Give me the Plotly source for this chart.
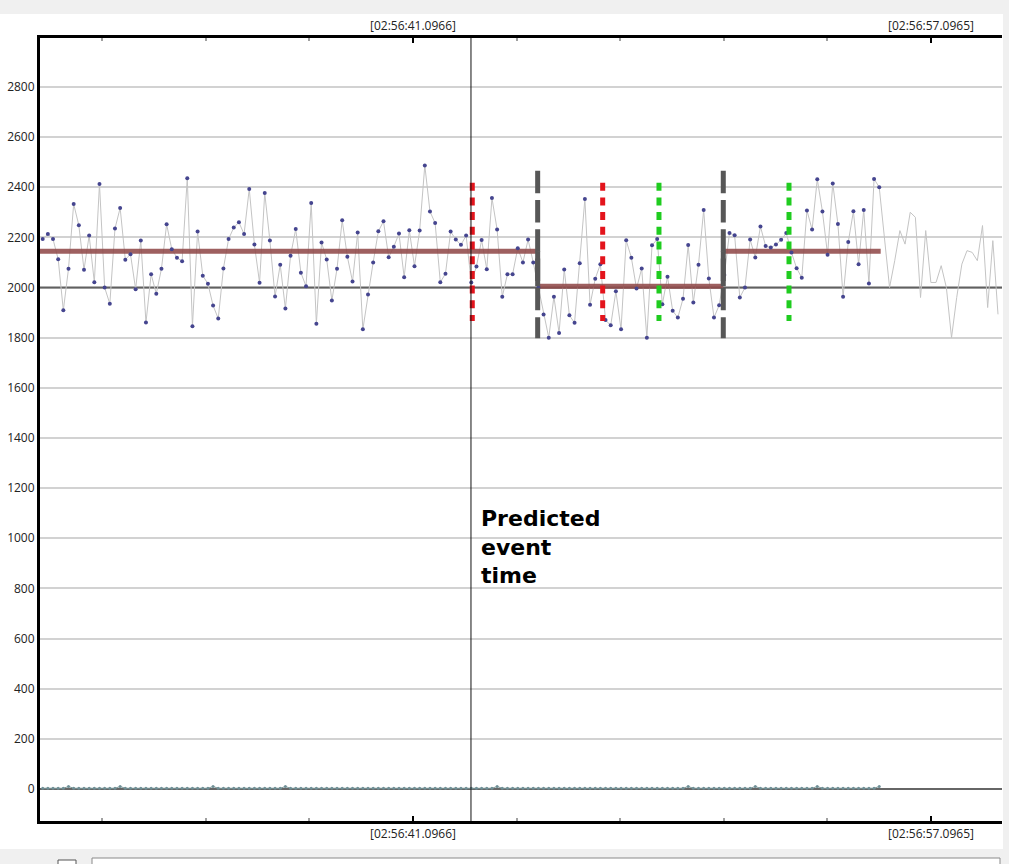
import plotly.graph_objects as go

# ---------------- data ----------------
# time axis: seconds after 02:56:00
T_FIRST = 29.659          # time of first sample
SAMPLE_PERIOD = 0.1595    # seconds between samples
N_MARKED = 163            # samples drawn with point markers

signal = [
    2193, 2213, 2193, 2113, 1909, 2075, 2333, 2248, 2071, 2207,
    2021, 2413, 2000, 1935, 2235, 2317, 2111, 2133, 1993, 2187,
    1860, 2053, 1975, 2075, 2252, 2153, 2119, 2105, 2436, 1845,
    2223, 2047, 2015, 1928, 1876, 2076, 2193, 2239, 2260, 2213,
    2393, 2171, 2019,
    2377, 2187, 1964, 2091, 1916, 2127, 2233, 2059, 2005, 2337,
    1855, 2179, 2112, 1948, 2075, 2268, 2123, 2024, 2219, 1833,
    1972, 2100, 2224, 2264, 2121, 2163, 2215, 2041, 2228, 2085,
    2227, 2487, 2303, 2257, 2021, 2055, 2223, 2191, 2170, 2207,
    2020, 2084,
    2189, 2073, 2357, 2231, 1963, 2053, 2053, 2157, 2100, 2191,
    2100, 2000, 1892, 1800, 1963, 1819, 2072, 1889, 1859, 2097,
    2353, 1931, 2035, 2093, 1870, 1849, 1985, 1833, 2188, 2119,
    1996, 2076, 1800, 2168, 2193,
    1933, 2043, 1907, 1880, 1955, 2169, 1940, 2091, 2309, 2036,
    1880, 1929, 2050, 2217, 2208, 1960, 2000, 2191, 2120, 2243,
    2165, 2160, 2171, 2190, 2217, 2140, 2077, 2039, 2307, 2231,
    2432, 2303, 2131, 2415, 2253, 1963, 2181, 2304, 2093, 2309,
    2016, 2433, 2400,
    2200, 2000, 2107, 2227, 2173, 2300, 2280, 1960, 2227, 2020,
    2020, 2087, 2000, 1800, 1960, 2093, 2147, 2140, 2107, 2247,
    1920, 2187, 1893,
]

zero_series = [
    3, 3, 3, 3, 3, 10, 3, 3, 3, 3, 3, 3, 3, 3, 3, 10, 3, 3, 3, 3,
    3, 3, 3, 3, 3, 3, 3, 3, 3, 3, 3, 3, 3, 10, 3, 3, 3, 3, 3, 3,
    3, 3, 3, 3, 3, 3, 3, 10, 3, 3, 3, 3, 3, 3, 3, 3, 3, 3, 3, 3,
    3, 3, 3, 3, 3, 3, 3, 3, 3, 3, 3, 3, 3, 3, 3, 3, 3, 3, 3, 3,
    3, 3, 3, 3, 3, 3, 3, 3, 10, 3, 3, 3, 3, 3, 3, 3, 3, 3, 3, 3,
    3, 3, 3, 3, 3, 3, 3, 3, 3, 3, 3, 3, 3, 3, 3, 3, 3, 3, 3, 3,
    3, 3, 3, 3, 3, 10, 3, 3, 3, 3, 3, 3, 3, 3, 3, 3, 3, 3, 10, 3,
    3, 3, 3, 3, 3, 3, 3, 3, 3, 3, 10, 3, 3, 3, 3, 3, 3, 3, 3, 3,
    3, 3, 10,
]

# segment means
seg_start = [29.0, 44.948, 50.681]
seg_end = [44.948, 50.681, 55.543]
seg_level = [2145, 2005, 2145]

# vertical markers
event_time = 42.888
change_times = [44.948, 50.681]
change_span = [2466, 1798]
red_times = [42.928, 46.956]
green_times = [48.695, 52.711]
dot_span = [2418, 1866]
reference_level = 2000

# axes
x_range = [29.576, 59.29]
y_range = [-127.6, 2995]
major_ticks = [41.0966, 57.0965]
major_labels = ["[02:56:41.0966]", "[02:56:57.0965]"]
minor_ticks = [31.4966, 34.6966, 37.8966, 44.2966, 47.4966, 50.6966, 53.8966]
y_ticks = [0, 200, 400, 600, 800, 1000, 1200, 1400, 1600, 1800, 2000, 2200, 2400, 2600, 2800]

# ---------------- figure ----------------
times = [T_FIRST + i * SAMPLE_PERIOD for i in range(len(signal))]

fig = go.Figure()

# reference level line (dark) across the whole plot
fig.add_trace(go.Scatter(
    x=x_range, y=[reference_level, reference_level], mode="lines",
    line=dict(color="#606060", width=2), showlegend=False, hoverinfo="skip"))

# near-zero channel
fig.add_trace(go.Scatter(
    x=times[:len(zero_series)], y=zero_series, mode="lines+markers",
    line=dict(color="#7f9a9a", width=1),
    marker=dict(size=3, color="#6f8f96"),
    xaxis="x2", yaxis="y", hoverinfo="skip", showlegend=False))

# signal line
fig.add_trace(go.Scatter(
    x=times, y=signal, mode="lines",
    line=dict(color="#c4c4c4", width=1), showlegend=False, hoverinfo="skip"))

# segment means
for s, e, lv in zip(seg_start, seg_end, seg_level):
    fig.add_trace(go.Scatter(
        x=[s, e], y=[lv, lv], mode="lines",
        line=dict(color="rgba(145,74,74,0.88)", width=5), showlegend=False, hoverinfo="skip"))

# signal points
fig.add_trace(go.Scatter(
    x=times[:N_MARKED], y=signal[:N_MARKED], mode="markers",
    marker=dict(size=4, color="#45458f", line=dict(width=0)),
    showlegend=False, hoverinfo="skip"))

# change points (gray dashed + step between levels)
for k, ct in enumerate(change_times):
    fig.add_trace(go.Scatter(
        x=[ct, ct], y=change_span, mode="lines",
        line=dict(color="#575757", width=5, dash="22.5px,6.8px"),
        showlegend=False, hoverinfo="skip"))
    fig.add_trace(go.Scatter(
        x=[ct, ct], y=[seg_level[k], seg_level[k + 1]], mode="lines",
        line=dict(color="#575757", width=5),
        showlegend=False, hoverinfo="skip"))

for ts, col in ((red_times, "#e3141c"), (green_times, "#1fcc1f")):
    for t in ts:
        fig.add_trace(go.Scatter(
            x=[t, t], y=dot_span, mode="lines",
            line=dict(color=col, width=5, dash="8px,6.7px"),
            showlegend=False, hoverinfo="skip"))

# plot area: x 40..1002 px, y 38..821 px
PW, PH = 962.0, 783.0
def px(xp):
    return (xp - 40) / PW
def py(yp):
    return (821 - yp) / PH

shapes = [
    # predicted event time line
    dict(type="line", xref="x", yref="paper", x0=event_time, x1=event_time, y0=0, y1=1,
         line=dict(color="#111111", width=1)),
    # window chrome
    dict(type="rect", xref="paper", yref="paper", x0=px(-20), x1=px(1030), y0=py(14), y1=py(-20),
         fillcolor="#f0f0f0", line=dict(width=0), layer="below"),
    dict(type="rect", xref="paper", yref="paper", x0=px(1003), x1=px(1030), y0=py(900), y1=py(-20),
         fillcolor="#f0f0f0", line=dict(width=0), layer="below"),
    dict(type="rect", xref="paper", yref="paper", x0=px(-20), x1=px(1030), y0=py(900), y1=py(849),
         fillcolor="#f0f0f0", line=dict(width=0), layer="below"),
    dict(type="rect", xref="paper", yref="paper", x0=px(92), x1=px(1000), y0=py(880), y1=py(858),
         fillcolor="#ffffff", line=dict(color="#8a8a8a", width=1), layer="below"),
    dict(type="rect", xref="paper", yref="paper", x0=px(58), x1=px(76), y0=py(880), y1=py(860),
         fillcolor="#ffffff", line=dict(color="#555555", width=1), layer="below"),
]

axis_common = dict(
    range=x_range, tickmode="array", tickvals=major_ticks, ticktext=major_labels,
    ticks="inside", ticklen=5, tickwidth=2, tickcolor="#000000",
    minor=dict(tickmode="array", tickvals=minor_ticks, ticks="inside", ticklen=3,
               tickwidth=2, tickcolor="#a0a0a0", showgrid=False),
    showline=True, linecolor="#000000", linewidth=3,
    showgrid=False, zeroline=False, automargin=False,
    tickfont=dict(family="Open Sans, Segoe UI, sans-serif", size=12, color="#222222"),
)

fig.update_layout(
    width=1009, height=864,
    margin=dict(l=40, r=7, t=38, b=43, autoexpand=False),
    paper_bgcolor="#ffffff", plot_bgcolor="#ffffff",
    showlegend=False,
    xaxis=dict(side="bottom", **axis_common),
    xaxis2=dict(side="top", overlaying="x", matches="x", **axis_common),
    yaxis=dict(range=y_range, tickmode="array", tickvals=y_ticks, automargin=False,
               showgrid=True, gridcolor="#d2d2d2", gridwidth=2,
               zeroline=True, zerolinecolor="#666666", zerolinewidth=2,
               showline=True, linecolor="#000000", linewidth=3,
               ticks="", tickfont=dict(family="Open Sans, Segoe UI, sans-serif", size=12, color="#222222")),
    shapes=shapes,
    annotations=[dict(
        x=event_time, y=965, xref="x", yref="y",
        text="Predicted<br>event<br>time", showarrow=False,
        xanchor="left", yanchor="middle", align="left", xshift=8,
        font=dict(family="DejaVu Sans", size=22, color="#000000", weight="bold"),
    )],
)

fig.write_html(
    "out.html",
    config={"displayModeBar": False},
    post_script="document.body.style.margin='0';document.body.style.overflow='hidden';",
)
